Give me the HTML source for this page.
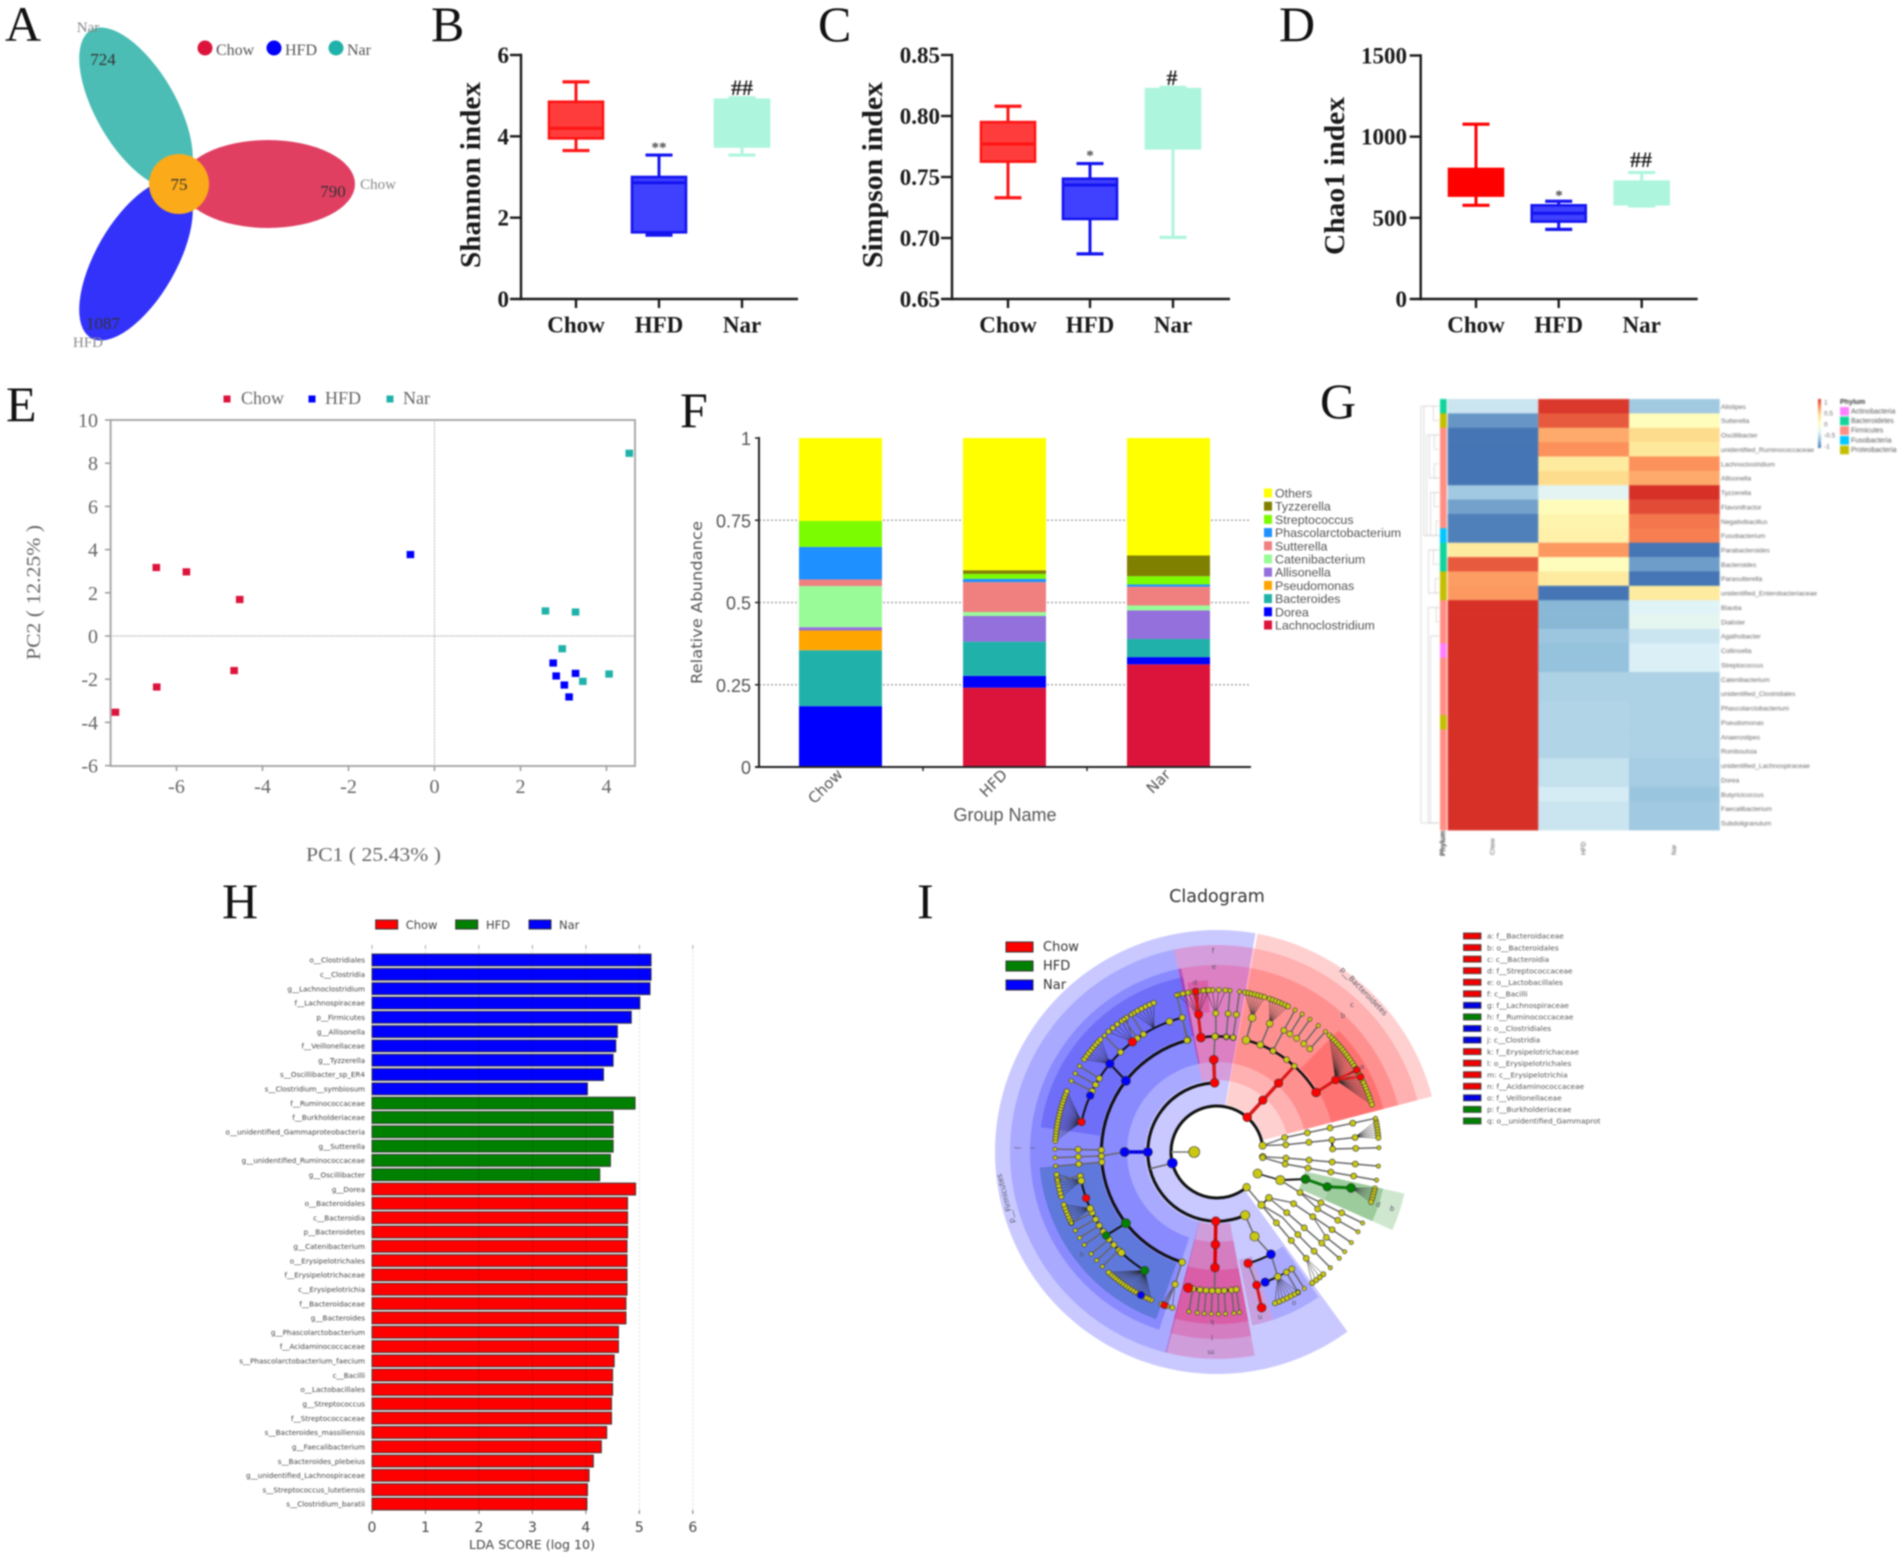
<!DOCTYPE html>
<html lang="en">
<head>
<meta charset="utf-8">
<title>Gut microbiota composite figure</title>
<style>
html,body{margin:0;padding:0;background:#fff;}
#figure{display:block;filter:blur(0.7px);}
.pl{font-family:"Liberation Serif",serif;font-size:50px;fill:#111;}
.bt{font-family:"Liberation Serif",serif;font-weight:bold;fill:#1a1a1a;}
.sf{font-family:"Liberation Serif",serif;}
.ss{font-family:"Liberation Sans",sans-serif;}
.dj{font-family:"DejaVu Sans",sans-serif;}
</style>
</head>
<body>
<svg id="figure" xmlns="http://www.w3.org/2000/svg" width="1901" height="1559" viewBox="0 0 1901 1559">
<rect width="1901" height="1559" fill="#fff"/>

<g>
<text class="pl" x="5" y="41">A</text>
<text class="pl" x="431" y="41">B</text>
<text class="pl" x="818" y="41">C</text>
<text class="pl" x="1279" y="41">D</text>
<text class="pl" x="6" y="421">E</text>
<text class="pl" x="680" y="427">F</text>
<text class="pl" x="1320" y="418">G</text>
<text class="pl" x="222" y="918">H</text>
<text class="pl" x="917" y="918">I</text>
</g>

<g>
<ellipse cx="136" cy="108" rx="40" ry="90" transform="rotate(-30 136 108)" fill="#4bbdb5"/>
<ellipse cx="136" cy="260" rx="40" ry="90" transform="rotate(30 136 260)" fill="#3232fa"/>
<ellipse cx="268" cy="184" rx="87" ry="44" fill="#e03f62"/>
<circle cx="179" cy="184" r="30" fill="#fbaa19"/>
<g class="sf" font-size="17" fill="#333" text-anchor="middle">
<text x="103" y="65">724</text>
<text x="333" y="197">790</text>
<text x="179" y="190">75</text>
<text x="103" y="329">1087</text>
</g>
<g class="sf" font-size="15" fill="#888" text-anchor="middle">
<text x="88" y="32">Nar</text>
<text x="378" y="189">Chow</text>
<text x="88" y="347">HFD</text>
</g>
<g class="sf" font-size="16" fill="#555">
<circle cx="205" cy="48" r="7.5" fill="#dc143c"/>
<text x="216" y="55">Chow</text>
<circle cx="274" cy="48" r="7.5" fill="#0000ff"/>
<text x="285" y="55">HFD</text>
<circle cx="336" cy="48" r="7.5" fill="#20b2aa"/>
<text x="347" y="55">Nar</text>
</g>
</g>

<g id="panelB">
<text class="bt" font-size="29" transform="translate(480 268) rotate(-90)" textLength="186" lengthAdjust="spacingAndGlyphs">Shannon index</text>
<text class="bt" font-size="15" text-anchor="middle" x="659" y="152" fill-opacity="0.8">**</text>
<text class="bt" font-size="22" text-anchor="middle" x="742" y="95">##</text>
</g>
<g id="panelC">
<text class="bt" font-size="29" transform="translate(882 268) rotate(-90)" textLength="186" lengthAdjust="spacingAndGlyphs">Simpson index</text>
<text class="bt" font-size="15" text-anchor="middle" x="1090" y="160" fill-opacity="0.8">*</text>
<text class="bt" font-size="22" text-anchor="middle" x="1172" y="85">#</text>
</g>
<g id="panelD">
<text class="bt" font-size="29" transform="translate(1344 255) rotate(-90)" textLength="158" lengthAdjust="spacingAndGlyphs">Chao1 index</text>
<text class="bt" font-size="15" text-anchor="middle" x="1559" y="200" fill-opacity="0.8">*</text>
<text class="bt" font-size="22" text-anchor="middle" x="1641" y="167">##</text>
</g>

<g id="panelE">
<text class="sf" font-size="20" fill="#666" transform="translate(40 660) rotate(-90)" textLength="135" lengthAdjust="spacingAndGlyphs">PC2 ( 12.25% )</text>
<text class="sf" font-size="20" fill="#666" x="306" y="861" textLength="135" lengthAdjust="spacingAndGlyphs">PC1 ( 25.43% )</text>
<g class="sf" font-size="18" fill="#666">
<rect x="223.500" y="395.500" width="7" height="7" fill="#dc143c"/>
<text x="241" y="404">Chow</text>
<rect x="308.500" y="395.500" width="7" height="7" fill="#0000ff"/>
<text x="325" y="404">HFD</text>
<rect x="386.500" y="395.500" width="7" height="7" fill="#20b2aa"/>
<text x="403" y="404">Nar</text>
</g>
</g>

<g id="panelF">
<text class="dj" font-size="15" fill="#555" transform="translate(702 684) rotate(-90)" textLength="163" lengthAdjust="spacingAndGlyphs">Relative Abundance</text>
<text class="ss" font-size="18" fill="#555" text-anchor="middle" x="1005" y="821">Group Name</text>
</g>

<g id="panelG" style="filter:blur(0.5px)">
<text class="ss" font-size="7" font-weight="bold" fill="#333" transform="translate(1445 856) rotate(-90)">Phylum</text>
<text class="ss" font-size="7" font-weight="bold" fill="#333" x="1840" y="404">Phylum</text>
</g>

<g id="panelH">
<g class="dj" font-size="11.500" fill="#444">
<rect x="375.700" y="920" width="22" height="9" fill="#f00" stroke="#333"/>
<text x="405.700" y="929">Chow</text>
<rect x="455.700" y="920" width="22" height="9" fill="#008000" stroke="#333"/>
<text x="486" y="929">HFD</text>
<rect x="529" y="920" width="22" height="9" fill="#00f" stroke="#333"/>
<text x="559" y="929">Nar</text>
</g>
<text class="dj" font-size="12" fill="#444" x="469" y="1549" textLength="126" lengthAdjust="spacingAndGlyphs">LDA SCORE (log 10)</text>
</g>

<g id="panelI">
<text class="dj" font-size="17.500" fill="#333" text-anchor="middle" x="1217" y="902">Cladogram</text>
<g></g>
</g>
<g id="cladeOverlay">
<g class="dj" font-size="13" fill="#333">
<rect x="1006" y="942" width="27" height="10" fill="#f00" stroke="#333"/>
<text x="1043" y="951">Chow</text>
<rect x="1006" y="961" width="27" height="10" fill="#008000" stroke="#333"/>
<text x="1043" y="970">HFD</text>
<rect x="1006" y="980" width="27" height="10" fill="#00f" stroke="#333"/>
<text x="1043" y="989">Nar</text>
</g>
<g class="dj" font-size="7" fill="#556" text-anchor="middle">
<text x="1213" y="953">f</text>
<text x="1214" y="969">e</text>
<text x="1195" y="985">d</text>
<text x="1352" y="1007">c</text>
<text x="1343" y="1018">b</text>
<text x="1362" y="1069">a</text>
<text x="1082" y="1257">h</text>
<text x="1294" y="1305">o</text>
<text x="1260" y="1319" transform="rotate(180 1260 1317)">n</text>
<text x="1212" y="1324" transform="rotate(180 1212 1322)">k</text>
<text x="1212" y="1339" transform="rotate(180 1212 1337)">l</text>
<text x="1211" y="1354" transform="rotate(180 1211 1352)">m</text>
<text x="1378" y="1207" transform="rotate(195 1378 1205)">p</text>
<text x="1392" y="1211" transform="rotate(195 1392 1209)">q</text>
<text x="1032" y="1150" transform="rotate(90 1032 1148)">i</text>
<text x="1018" y="1150" transform="rotate(90 1018 1148)">j</text>
</g>
<text class="dj" font-size="7.500" fill="#556" text-anchor="middle" transform="translate(1362 993) rotate(46)">p__Bacteroidetes</text>
<text class="dj" font-size="7.500" fill="#556" text-anchor="middle" transform="translate(1008 1198) rotate(-105)">p__Firmicutes</text>
</g>
</svg>

<script>
/* ---------- shared category data ---------- */
const groupNames = ['Chow', 'HFD', 'Nar'];

/* ---------- B / C / D boxplot data: [low, q1, median, q3, high] ---------- */
const shannonChow = [3.65, 3.95, 4.2, 4.85, 5.34];
const shannonHFD = [1.57, 1.64, 2.86, 3.0, 3.54];
const shannonNar = [3.54, 3.75, 3.8, 4.9, 4.95];
const shannonTicks = [0, 2, 4, 6];

const simpsonChow = [0.733, 0.7626, 0.777, 0.795, 0.808];
const simpsonHFD = [0.687, 0.7156, 0.7434, 0.7486, 0.761];
const simpsonNar = [0.7005, 0.7735, 0.774, 0.822, 0.8235];
const simpsonTicks = ['0.65', '0.70', '0.75', '0.80', '0.85'];

const chaoChow = [577, 637, 720, 801, 1077];
const chaoHFD = [429, 477, 528, 577, 602];
const chaoNar = [573, 584, 590, 723, 779];
const chaoTicks = [0, 500, 1000, 1500];

/* ---------- E PCA data ---------- */
const chowPC1 = [-6.47, -5.77, -4.53, -4.66, -6.46, -7.42];
const chowPC2 = [3.17, 2.97, 1.69, -1.6, -2.36, -3.53];
const hfdPC1 = [-0.56, 2.76, 2.83, 3.28, 3.02, 3.13];
const hfdPC2 = [3.77, -1.25, -1.85, -1.73, -2.27, -2.82];
const narPC1 = [4.53, 2.58, 3.28, 2.97, 4.06, 3.45];
const narPC2 = [8.46, 1.16, 1.11, -0.59, -1.76, -2.1];
const pcaXTicks = [-6, -4, -2, 0, 2, 4];
const pcaYTicks = [-6, -4, -2, 0, 2, 4, 6, 8, 10];

/* ---------- F stacked bars (bottom to top) ---------- */
const taxaNames = ['Lachnoclostridium', 'Dorea', 'Bacteroides', 'Pseudomonas', 'Allisonella', 'Catenibacterium', 'Sutterella', 'Phascolarctobacterium', 'Streptococcus', 'Tyzzerella', 'Others'];
const taxaColors = ['#dc143c', '#0000ff', '#20b2aa', '#ffa500', '#9370db', '#98fb98', '#f08080', '#1e90ff', '#7cfc00', '#808000', '#ffff00'];
const stackChow = [0, 0.185, 0.17, 0.06, 0.01, 0.125, 0.02, 0.099, 0.079, 0, 0.252];
const stackHFD = [0.241, 0.036, 0.104, 0, 0.078, 0.012, 0.091, 0.01, 0.015, 0.011, 0.402];
const stackNar = [0.312, 0.022, 0.055, 0, 0.087, 0.015, 0.057, 0.007, 0.025, 0.063, 0.357];
const abundanceTicks = [0, 0.25, 0.5, 0.75, 1];

/* ---------- G heatmap ---------- */
const genusNames = ['Alistipes', 'Sutterella', 'Oscillibacter', 'unidentified_Ruminococcaceae', 'Lachnoclostridium', 'Allisonella', 'Tyzzerella', 'Flavonifractor', 'Negativibacillus', 'Fusobacterium', 'Parabacteroides', 'Bacteroides', 'Parasutterella', 'unidentified_Enterobacteriaceae', 'Blautia', 'Dialister', 'Agathobacter', 'Collinsella', 'Streptococcus', 'Catenibacterium', 'unidentified_Clostridiales', 'Phascolarctobacterium', 'Pseudomonas', 'Anaerostipes', 'Romboutsia', 'unidentified_Lachnospiraceae', 'Dorea', 'Butyricicoccus', 'Faecalibacterium', 'Subdoligranulum'];
const heatChow = [-0.42, -0.85, -1, -1, -1, -1, -0.6, -0.8, -0.95, -0.95, 0.22, 0.85, 0.6, 0.62, 1, 1, 1, 1, 1, 1, 1, 1, 1, 1, 1, 1, 1, 1, 1, 1];
const heatHFD = [0.97, 0.85, 0.55, 0.65, 0.22, 0.35, -0.3, 0.03, 0.12, 0.15, 0.62, 0.02, 0.22, -1, -0.7, -0.7, -0.62, -0.65, -0.65, -0.55, -0.55, -0.53, -0.53, -0.53, -0.53, -0.45, -0.45, -0.38, -0.42, -0.42];
const heatNar = [-0.6, 0.02, 0.35, 0.25, 0.65, 0.55, 1, 0.9, 0.75, 0.72, -1, -0.82, -1, 0.22, -0.33, -0.28, -0.42, -0.36, -0.36, -0.55, -0.55, -0.55, -0.55, -0.55, -0.55, -0.58, -0.58, -0.63, -0.6, -0.6];
const genusPhylum = [1, 4, 2, 2, 2, 2, 2, 2, 2, 3, 1, 1, 4, 4, 2, 2, 2, 0, 2, 2, 2, 2, 4, 2, 2, 2, 2, 2, 2, 2];
const phylumNames = ['Actinobacteria', 'Bacteroidetes', 'Firmicutes', 'Fusobacteria', 'Proteobacteria'];
const phylumColors = ['#ff80ff', '#10d49c', '#ff8f85', '#00c8ff', '#c4bf00'];
const colorbarTicks = ['1', '0.5', '0', '-0.5', '-1'];
const dendroMerges = [[0, 1, 0.35], [2, 3, 0.3], [4, 5, 0.3], [6, 7, 0.3], [8, 9, 0.2], [10, 11, 0.35], [12, 13, 0.25], [14, 15, 0.2], [16, 29, 0.5], [2, 5, 0.55], [6, 9, 0.5], [2, 9, 0.7], [0, 9, 0.85], [10, 13, 0.6], [14, 29, 0.62], [0, 29, 1]];

/* ---------- H LDA bars ---------- */
const narTaxa = ['o__Clostridiales', 'c__Clostridia', 'g__Lachnoclostridium', 'f__Lachnospiraceae', 'p__Firmicutes', 'g__Allisonella', 'f__Veillonellaceae', 'g__Tyzzerella', 's__Oscillibacter_sp_ER4', 's__Clostridium__symbiosum'];
const narLDA = [5.22, 5.22, 5.2, 5.01, 4.85, 4.59, 4.56, 4.51, 4.33, 4.03];
const hfdTaxa = ['f__Ruminococcaceae', 'f__Burkholderiaceae', 'o__unidentified_Gammaproteobacteria', 'g__Sutterella', 'g__unidentified_Ruminococcaceae', 'g__Oscillibacter'];
const hfdLDA = [4.92, 4.51, 4.51, 4.51, 4.46, 4.26];
const chowTaxa = ['g__Dorea', 'o__Bacteroidales', 'c__Bacteroidia', 'p__Bacteroidetes', 'g__Catenibacterium', 'o__Erysipelotrichales', 'f__Erysipelotrichaceae', 'c__Erysipelotrichia', 'f__Bacteroidaceae', 'g__Bacteroides', 'g__Phascolarctobacterium', 'f__Acidaminococcaceae', 's__Phascolarctobacterium_faecium', 'c__Bacilli', 'o__Lactobacillales', 'g__Streptococcus', 'f__Streptococcaceae', 's__Bacteroides_massiliensis', 'g__Faecalibacterium', 's__Bacteroides_plebeius', 'g__unidentified_Lachnospiraceae', 's__Streptococcus_lutetiensis', 's__Clostridium_baratii'];
const chowLDA = [4.93, 4.78, 4.78, 4.78, 4.77, 4.77, 4.77, 4.77, 4.75, 4.75, 4.61, 4.61, 4.53, 4.5, 4.5, 4.48, 4.48, 4.39, 4.29, 4.14, 4.06, 4.03, 4.02];
const ldaTicks = [0, 1, 2, 3, 4, 5, 6];

/* ---------- I cladogram data (angle clockwise from top, tree level) ---------- */
const cladeKeyLabels = ['a: f__Bacteroidaceae', 'b: o__Bacteroidales', 'c: c__Bacteroidia', 'd: f__Streptococcaceae', 'e: o__Lactobacillales', 'f: c__Bacilli', 'g: f__Lachnospiraceae', 'h: f__Ruminococcaceae', 'i: o__Clostridiales', 'j: c__Clostridia', 'k: f__Erysipelotrichaceae', 'l: o__Erysipelotrichales', 'm: c__Erysipelotrichia', 'n: f__Acidaminococcaceae', 'o: f__Veillonellaceae', 'p: f__Burkholderiaceae', 'q: o__unidentified_Gammaprot'];
const cladeKeyGroups = ['r', 'r', 'r', 'r', 'r', 'r', 'b', 'g', 'b', 'b', 'r', 'r', 'r', 'r', 'b', 'g', 'g'];
const cladeSectors = [
  [144, 370, 46, 222, '#c9c9ff'], [194, 348, 72, 207, '#a9a9ff'], [198, 349, 90, 187, '#8a8aff'],
  [278, 349, 118, 178, '#6e6ef8'], [200, 265, 118, 178, '#5f78dc'], [145, 161.5, 115, 177, '#a9a9ff'],
  [161.5, 168.5, 110, 177, '#c8a0e0'],
  [348, 370.5, 72, 207, 'rgba(255,0,90,0.22)'], [348, 370.5, 90, 187, 'rgba(255,0,90,0.18)'], [350, 357, 140, 172, 'rgba(220,0,90,0.25)'],
  [10.5, 75.5, 48, 222, '#ffd0d0'], [10.5, 75.5, 72, 207, '#ffb0b0'], [10.5, 75.5, 90, 187, '#ff9090'], [45, 75.5, 118, 172, '#ff7272'],
  [169.5, 194.5, 72, 207, 'rgba(230,0,90,0.22)'], [169.5, 194.5, 90, 187, 'rgba(230,0,90,0.2)'], [169.5, 194.5, 118, 172, 'rgba(230,0,90,0.25)'],
  [102.5, 114, 90, 192, '#cfe7cf'], [102.5, 114, 90, 170, '#b0d6b0'], [102.5, 114, 118, 170, '#9ccb9c']
];
const cladeArcs = [[1, 141, 442, 3], [2, 156, 356, 3], [4, 197.6, 345, 3], [4, 14, 59, 2.5], [4, 352, 368, 2.5], [5, 172, 192, 2], [5, 282, 345, 2], [5, 211, 258, 2], [5, 147, 160, 1.5], [4, 152, 164, 2]];
const cladeRays = [
  [78, 2, 6], [84, 2, 5], [88.5, 4, 6], [95, 2, 6], [100, 2, 6], [116, 3, 6], [119.5, 4, 6], [124, 3, 6], [128, 5, 6], [131, 3, 6], [135.6, 4, 6], [140, 2, 5],
  [359.5, 4, 5], [4.6, 4, 6], [8, 4, 6], [14.7, 4, 5], [22.3, 4, 5], [28.8, 4, 6], [31.7, 5, 6], [35, 5, 6], [38.7, 5, 6], [42, 5, 6],
  [225, 5, 6], [228, 5, 6], [231, 5, 6], [235, 5, 6], [238, 5, 6], [241, 5, 6], [244, 5, 6], [271, 4, 6], [268, 4, 6], [265, 4, 6], [260, 5, 6],
  [296, 5, 6], [299, 5, 6], [302, 5, 6], [316, 5, 6], [325, 5, 6], [328, 5, 6], [345.5, 4, 6],
  [190, 5, 6], [187, 5, 6], [184.5, 5, 6], [182, 5, 6], [179.5, 5, 6], [177, 5, 6], [174, 5, 6], [172, 5, 6], [147.4, 5, 6], [150, 5, 6]
];
const cladeFans = [
  [83.8, 5, 79, 85, 7], [140, 5, 139, 144, 4], [105, 5, 103, 108, 6], [58.7, 5, 44, 73, 26], [14.7, 5, 10, 17, 7], [22.3, 5, 19, 26, 7],
  [359.5, 5, 356, 3, 4], [352.4, 5, 346, 357, 7], [211.4, 5, 204, 222, 18], [282.5, 5, 274, 292, 18], [309.5, 5, 305, 314, 8],
  [322.5, 5, 318, 326, 5], [333, 5, 329, 337, 6], [197.6, 5, 196, 200, 3], [154, 5, 150, 159, 7], [246, 5, 244, 251, 7], [258, 5, 254, 262, 7]
];
const cladeLinks = [
  [82, 1, 78, 2, '#666', 1.4], [82, 1, 84, 2, '#666', 1.4], [96, 1, 95, 2, '#666', 1.4], [97, 1, 100, 2, '#666', 1.4], [118, 1, 114, 2, '#222', 1.6],
  [114, 2, 107, 3, '#111', 2], [114, 2, 116, 3, '#666', 1.4], [140, 1, 140, 2, '#666', 1.4], [140, 2, 131.5, 2, '#222', 1.6], [131.5, 2, 123.5, 3, '#666', 1.4],
  [131.5, 2, 131, 3, '#666', 1.4], [140, 2, 135, 3, '#666', 1.4], [135, 3, 135.6, 4, '#666', 1.4], [116, 3, 119.5, 4, '#666', 1.4], [84, 4, 88.5, 4, '#111', 2], [124, 4, 128, 5, '#666', 1.2],
  [107, 3, 107.5, 4, '#0a7a0a', 3], [107.5, 4, 105, 5, '#0a7a0a', 3],
  [41, 1, 41.8, 3, '#d81818', 3.5], [41.8, 3, 42, 4, '#d81818', 3], [59, 4, 58.7, 5, '#d81818', 3], [58.7, 5, 59.6, 6, '#d81818', 2], [58.7, 5, 62.4, 6, '#d81818', 2],
  [358, 2, 358, 3, '#d81818', 3.5], [358, 3, 359, 4, '#666', 1.5], [352, 4, 352.4, 6, '#d81818', 3], [181, 2, 181, 4, '#e00000', 3.5], [181, 4, 181, 5, '#666', 1.5],
  [270, 2, 270, 3, '#0000e0', 3.5], [270, 3, 268, 4, '#666', 1.5], [256, 1, 256, 2, '#666', 1.5], [270, 1, 270, 0, '#777', 1.5],
  [308, 4, 309.5, 5, '#111', 2], [232, 4, 233, 5, '#111', 2], [156, 2, 156, 3, '#666', 1.5], [156, 3, 152.2, 4, '#666', 1.5],
  [164.4, 4, 163.4, 5, '#666', 1.5], [163.4, 5, 164, 6, '#d81818', 3], [152.2, 4, 154, 5, '#666', 1.5], [154, 5, 159.7, 5, '#111', 2],
  [197.6, 4, 197.6, 5, '#666', 1.5], [197.6, 5, 199, 6, '#666', 1.5], [14.6, 4, 14.7, 5, '#666', 1.5], [345, 4, 345.5, 5, '#666', 1.5]
];
const cladeNodes = [
  [270, 0, 'y', 5.5], [82, 1, 'y', 3.6], [96, 1, 'y', 3.4], [97, 1, 'y', 3], [118, 1, 'y', 4.5], [140, 1, 'y', 3.8], [156, 2, 'y', 4.6], [156, 3, 'y', 4.6], [114, 2, 'y', 4.6], [131.5, 2, 'y', 3.4], [140, 2, 'y', 3.6],
  [268, 4, 'y', 3], [345, 4, 'y', 3.2], [359, 4, 'y', 3.2], [4.6, 4, 'y', 2.6], [8, 4, 'y', 2.8], [14.6, 4, 'y', 4], [22, 4, 'y', 3.4], [29, 4, 'y', 3], [37, 4, 'y', 3], [42, 4, 'y', 2.8], [197.6, 4, 'y', 3.4], [197.6, 5, 'y', 3.2],
  [223.5, 5, 'y', 3.6], [246, 5, 'y', 3.4], [258, 5, 'y', 3.4], [340, 5, 'y', 3.4], [14.7, 5, 'y', 3.8], [22.3, 5, 'y', 3.4], [154, 5, 'y', 3.4],
  [41, 1, 'r', 4.4], [41.5, 2, 'r', 4.2], [41.8, 3, 'r', 4.2], [59, 4, 'r', 4.4], [58.7, 5, 'r', 4], [59.6, 6, 'r', 3.4], [62.4, 6, 'r', 3.4], [358, 2, 'r', 4.4], [358, 3, 'r', 4.4], [352, 4, 'r', 4.4], [352.4, 5, 'r', 4], [352.4, 6, 'r', 3.4], [322.5, 5, 'r', 4.2], [282.5, 5, 'r', 3.8], [250.6, 5, 'r', 3.8], [181, 2, 'r', 4.4], [181, 3, 'r', 4.4], [181, 4, 'r', 4.4], [192, 5, 'r', 4.6], [199, 6, 'r', 3.4], [164.4, 4, 'r', 4.2], [163.4, 5, 'r', 4], [164, 6, 'r', 4.4],
  [256, 1, 'b', 5], [270, 2, 'b', 4.6], [270, 3, 'b', 4.6], [308, 4, 'b', 4.6], [309.5, 5, 'b', 4.2], [294, 5, 'b', 3.8], [208, 6, 'b', 3.6], [152.2, 4, 'b', 4.4], [159.7, 5, 'b', 4.2],
  [232, 4, 'g', 4.6], [233, 5, 'g', 3.8], [211.4, 5, 'g', 4.2], [107, 3, 'g', 4.4], [107.5, 4, 'g', 4.2], [105, 5, 'g', 4.4]
];

/* ---------- drawing helpers ---------- */
const SVGNS = 'http://www.w3.org/2000/svg';
function mk(parent, tag, attrs, name, interact) {
  const el = document.createElementNS(SVGNS, tag);
  for (const k in attrs) el.setAttribute(k, attrs[k]);
  
  
  parent.appendChild(el);
  return el;
}
function label(parent, x, y, str, cls, size, fill, anchor, name, extra) {
  const a = Object.assign({ x: x, y: y, class: cls, 'font-size': size, fill: fill, 'text-anchor': anchor }, extra || {});
  const el = mk(parent, 'text', a, name);
  el.textContent = str;
  return el;
}
const $ = id => document.getElementById(id);

/* ---------- B C D ---------- */
function drawBoxPanel(root, prefix, cfg, series, ticks, colors) {
  const yOf = v => cfg.y0 + (v - cfg.min) / (cfg.max - cfg.min) * (cfg.y1 - cfg.y0);
  mk(root, 'line', { x1: cfg.ax, x2: cfg.ax, y1: cfg.y1 - 1.2, y2: cfg.y0 + 1.2, stroke: '#1a1a1a', 'stroke-width': 2.4 }, prefix + '-y-axis');
  mk(root, 'line', { x1: cfg.ax - 11, x2: cfg.end, y1: cfg.y0, y2: cfg.y0, stroke: '#1a1a1a', 'stroke-width': 2.4 }, prefix + '-x-axis');
  ticks.forEach(t => {
    const y = yOf(+t);
    if (+t !== cfg.min) mk(root, 'line', { x1: cfg.ax - 11, x2: cfg.ax, y1: y, y2: y, stroke: '#1a1a1a', 'stroke-width': 2.4 }, prefix + '-y-tick');
    label(root, cfg.lab, y + 8, String(t), 'bt', 23, '#1a1a1a', 'end', prefix + '-y-tick-label');
  });
  groupNames.forEach((g, i) => {
    const x = cfg.xs[i], d = series[i], c = colors[i];
    mk(root, 'line', { x1: x, x2: x, y1: cfg.y0, y2: cfg.y0 + 9, stroke: '#1a1a1a', 'stroke-width': 2.4 }, prefix + '-x-tick');
    label(root, x, 332.5, g, 'bt', 23, '#1a1a1a', 'middle', prefix + '-x-tick-label');
    mk(root, 'line', { x1: x, x2: x, y1: yOf(d[0]), y2: yOf(d[4]), stroke: c.s, 'stroke-width': 3 }, prefix + '-whisker-' + g.toLowerCase());
    mk(root, 'line', { x1: x - 13.5, x2: x + 13.5, y1: yOf(d[0]), y2: yOf(d[0]), stroke: c.s, 'stroke-width': 3.2 }, prefix + '-cap-low-' + g.toLowerCase());
    mk(root, 'line', { x1: x - 13.5, x2: x + 13.5, y1: yOf(d[4]), y2: yOf(d[4]), stroke: c.s, 'stroke-width': 3.2 }, prefix + '-cap-high-' + g.toLowerCase());
    mk(root, 'rect', { x: x - 27, y: yOf(d[3]), width: 54, height: yOf(d[1]) - yOf(d[3]), fill: c.f, stroke: c.s, 'stroke-width': 2.6 }, prefix + '-box-' + g.toLowerCase());
    mk(root, 'line', { x1: x - 27, x2: x + 27, y1: yOf(d[2]), y2: yOf(d[2]), stroke: c.s, 'stroke-width': 3 }, prefix + '-median-' + g.toLowerCase());
  });
}
const softBox = [{ s: '#ff1515', f: '#ff3c3c' }, { s: '#1414f0', f: '#4040ff' }, { s: '#aef5de', f: '#aef5de' }];
drawBoxPanel($('panelB'), 'shannon', { min: 0, max: 6, y0: 299, y1: 55, ax: 521, end: 798, lab: 509, xs: [576, 659, 742] }, [shannonChow, shannonHFD, shannonNar], shannonTicks, softBox);
drawBoxPanel($('panelC'), 'simpson', { min: 0.65, max: 0.85, y0: 299, y1: 55, ax: 952, end: 1230, lab: 940, xs: [1008, 1090, 1173] }, [simpsonChow, simpsonHFD, simpsonNar], simpsonTicks, softBox);
drawBoxPanel($('panelD'), 'chao1', { min: 0, max: 1500, y0: 299, y1: 55.5, ax: 1420.7, end: 1697.7, lab: 1407, xs: [1476, 1558.7, 1641.7] }, [chaoChow, chaoHFD, chaoNar], chaoTicks, [{ s: '#ff0000', f: '#ff0000' }, { s: '#1414f0', f: '#4040ff' }, { s: '#aef5de', f: '#aef5de' }]);

/* ---------- E ---------- */
(function () {
  const root = $('panelE');
  const xOf = v => 434.5 + v * 43;
  const yOf = v => 636 - v * 21.6;
  mk(root, 'rect', { x: 110.6, y: 420, width: 524.4, height: 346, fill: 'none', stroke: '#aaa', 'stroke-width': 2 }, 'pca-frame');
  mk(root, 'line', { x1: xOf(0), x2: xOf(0), y1: 420, y2: 766, stroke: '#bbb', 'stroke-width': 1, 'stroke-dasharray': '2 1' }, 'pca-zero-vertical');
  mk(root, 'line', { x1: 110.6, x2: 635, y1: yOf(0), y2: yOf(0), stroke: '#bbb', 'stroke-width': 1.2, 'stroke-dasharray': '2 1' }, 'pca-zero-horizontal');
  pcaXTicks.forEach(t => {
    mk(root, 'line', { x1: xOf(t), x2: xOf(t), y1: 766, y2: 771, stroke: '#999', 'stroke-width': 1.5 }, 'pca-x-tick');
    label(root, xOf(t), 793, String(t), 'sf', 20, '#666', 'middle', 'pca-x-tick-label');
  });
  pcaYTicks.forEach(t => {
    mk(root, 'line', { x1: 105, x2: 110.6, y1: yOf(t), y2: yOf(t), stroke: '#999', 'stroke-width': 1.5 }, 'pca-y-tick');
    label(root, 98, yOf(t) + 7, String(t), 'sf', 20, '#666', 'end', 'pca-y-tick-label');
  });
  [[chowPC1, chowPC2, '#dc143c', 'chow'], [hfdPC1, hfdPC2, '#0000ff', 'hfd'], [narPC1, narPC2, '#20b2aa', 'nar']].forEach(s => {
    s[0].forEach((v, i) => {
      mk(root, 'rect', { x: xOf(v) - 3.8, y: yOf(s[1][i]) - 3.6, width: 7.6, height: 7.2, fill: s[2] }, 'pca-point-' + s[3]);
    });
  });
})();

/* ---------- F ---------- */
(function () {
  const root = $('panelF');
  const yOf = v => 767 - v * 329;
  abundanceTicks.forEach(t => {
    if (t > 0 && t < 1) mk(root, 'line', { x1: 759, x2: 1251, y1: yOf(t), y2: yOf(t), stroke: '#999', 'stroke-width': 1.2, 'stroke-dasharray': '2 2' }, 'abundance-gridline');
    mk(root, 'line', { x1: 755, x2: 759, y1: yOf(t), y2: yOf(t), stroke: '#222', 'stroke-width': 1.5 }, 'abundance-y-tick');
    label(root, 751, yOf(t) + 7, String(t), 'ss', 18, '#555', 'end', 'abundance-y-tick-label');
  });
  const lefts = [799, 963, 1127];
  const tickX = [829, 997, 1162];
  const tickY = [790, 787, 785];
  [stackChow, stackHFD, stackNar].forEach((arr, i) => {
    let acc = 0;
    arr.forEach((v, k) => {
      if (v > 0) mk(root, 'rect', { x: lefts[i], y: yOf(acc + v), width: 83, height: yOf(acc) - yOf(acc + v), fill: taxaColors[k] }, 'abundance-segment-' + groupNames[i].toLowerCase() + '-' + taxaNames[k].toLowerCase());
      acc += v;
    });
    label(root, 0, 0, groupNames[i], 'dj', 15, '#555', 'middle', 'abundance-x-tick-label', { transform: 'translate(' + tickX[i] + ' ' + tickY[i] + ') rotate(-45)' });
  });
  mk(root, 'line', { x1: 759, x2: 759, y1: 437, y2: 768, stroke: '#222', 'stroke-width': 2 }, 'abundance-y-axis');
  mk(root, 'line', { x1: 755, x2: 1251, y1: 767, y2: 767, stroke: '#222', 'stroke-width': 2 }, 'abundance-x-axis');
  [923, 1087].forEach(x => mk(root, 'line', { x1: x, x2: x, y1: 767, y2: 771, stroke: '#222', 'stroke-width': 1.5 }, 'abundance-x-tick'));
  taxaNames.slice().reverse().forEach((n, i) => {
    const y = 493 + i * 13.2;
    mk(root, 'rect', { x: 1264, y: y - 4.5, width: 8, height: 9, fill: taxaColors[taxaNames.length - 1 - i] }, 'abundance-legend-swatch');
    label(root, 1275, y + 4.5, n, 'ss', 12.4, '#555', 'start', 'abundance-legend-label');
  });
})();

/* ---------- G ---------- */
(function () {
  const root = $('panelG');
  const stops = [[69, 117, 180], [145, 191, 219], [224, 243, 248], [255, 255, 191], [254, 224, 144], [252, 141, 89], [215, 48, 39]];
  const heat = v => {
    const p = (Math.max(-1, Math.min(1, v)) + 1) / 2 * (stops.length - 1);
    const i = Math.min(stops.length - 2, Math.floor(p)), t = p - i;
    return 'rgb(' + stops[i].map((c, k) => Math.round(c + (stops[i + 1][k] - c) * t)).join(',') + ')';
  };
  const colX = [1447.7, 1538.3, 1629];
  const rowH = 14.37, top = 399;
  [heatChow, heatHFD, heatNar].forEach((col, c) => {
    col.forEach((v, r) => {
      mk(root, 'rect', { x: colX[c], y: top + r * rowH, width: 90.7, height: rowH + 0.3, fill: heat(v) }, 'heatmap-cell-' + groupNames[c].toLowerCase());
    });
    label(root, 0, 0, groupNames[c], 'ss', 6.5, '#555', 'start', 'heatmap-column-label', { transform: 'translate(' + (colX[c] + 47) + ' 855) rotate(-90)' });
  });
  genusNames.forEach((n, r) => {
    mk(root, 'rect', { x: 1440, y: top + r * rowH, width: 6.7, height: rowH + 0.3, fill: phylumColors[genusPhylum[r]] }, 'heatmap-phylum-annotation');
    label(root, 1721, top + r * rowH + 9.8, n, 'ss', 6.7, '#666', 'start', 'heatmap-row-label');
  });
  dendroMerges.forEach(m => {
    const ya = top + (m[0] + 0.5) * rowH, yb = top + (m[1] + 0.5) * rowH, x = 1440 - m[2] * 19;
    mk(root, 'path', { d: 'M1439 ' + ya + 'H' + x + 'V' + yb + 'H1439', fill: 'none', stroke: '#ccc', 'stroke-width': 0.7 }, 'heatmap-dendrogram-branch');
  });
  const grad = mk(root, 'linearGradient', { id: 'heatBar', x1: 0, y1: 0, x2: 0, y2: 1 }, 'heatmap-colorbar-gradient');
  stops.slice().reverse().forEach((s, i) => {
    mk(grad, 'stop', { offset: i / (stops.length - 1), 'stop-color': 'rgb(' + s.join(',') + ')' }, 'heatmap-colorbar-stop');
  });
  mk(root, 'rect', { x: 1818, y: 399, width: 3, height: 49, fill: 'url(#heatBar)' }, 'heatmap-colorbar');
  colorbarTicks.forEach((t, i) => label(root, 1824, 404.5 + i * 11, t, 'ss', 6.5, '#666', 'start', 'heatmap-colorbar-label'));
  phylumNames.forEach((n, i) => {
    const y = 407 + i * 9.67;
    mk(root, 'rect', { x: 1840, y: y, width: 9, height: 8.6, fill: phylumColors[i] }, 'heatmap-phylum-legend-swatch');
    label(root, 1851, y + 6.4, n, 'ss', 7, '#555', 'start', 'heatmap-phylum-legend-label');
  });
})();

/* ---------- H ---------- */
(function () {
  const root = $('panelH');
  const xOf = v => 372 + v * 53.47;
  const rows = [];
  narTaxa.forEach((n, i) => rows.push([n, narLDA[i], '#0000ff', 'nar']));
  hfdTaxa.forEach((n, i) => rows.push([n, hfdLDA[i], '#008000', 'hfd']));
  chowTaxa.forEach((n, i) => rows.push([n, chowLDA[i], '#ff0000', 'chow']));
  const step = 544 / (rows.length - 1);
  ldaTicks.forEach(t => {
    mk(root, 'line', { x1: xOf(t), x2: xOf(t), y1: 947, y2: 1513, stroke: '#ddd', 'stroke-width': 1, 'stroke-dasharray': '2 2' }, 'lda-gridline');
    mk(root, 'line', { x1: xOf(t), x2: xOf(t), y1: 945, y2: 949, stroke: '#aaa', 'stroke-width': 1 }, 'lda-top-tick');
  });
  rows.forEach((r, i) => {
    const y = 960 + i * step;
    mk(root, 'rect', { x: 372, y: y - 6, width: xOf(r[1]) - 372, height: 12, fill: r[2], stroke: '#333', 'stroke-width': 0.9 }, 'lda-bar-' + r[3]);
    label(root, 365, y + 2.7, r[0], 'dj', 7.2, '#444', 'end', 'lda-taxon-label');
    ldaTicks.forEach(t => {
      if (t > 0 && t < r[1]) mk(root, 'line', { x1: xOf(t), x2: xOf(t), y1: y - 6, y2: y + 6, stroke: 'rgba(0,0,0,0.14)', 'stroke-width': 1 }, 'lda-grid-overlay');
    });
  });
  ldaTicks.forEach(t => {
    mk(root, 'line', { x1: xOf(t), x2: xOf(t), y1: 1510, y2: 1514, stroke: '#777', 'stroke-width': 1 }, 'lda-x-tick');
    label(root, xOf(t), 1532, String(t), 'dj', 14, '#444', 'middle', 'lda-x-tick-label');
  });
})();

/* ---------- I ---------- */
(function () {
  const root = $('panelI');
  const cx = 1217, cy = 1152;
  const rad = L => 46 + (L - 1) * 23.2;
  const px = (a, r) => cx + r * Math.sin(a * Math.PI / 180);
  const py = (a, r) => cy - r * Math.cos(a * Math.PI / 180);
  const nodeFill = { y: '#c9c914', r: '#ff0000', b: '#0000ff', g: '#008000' };
  cladeSectors.forEach(s => {
    const [a0, a1, r0, r1, c] = s;
    const big = a1 - a0 > 180 ? 1 : 0;
    const d = 'M' + px(a0, r0) + ' ' + py(a0, r0) + 'L' + px(a0, r1) + ' ' + py(a0, r1) + 'A' + r1 + ' ' + r1 + ' 0 ' + big + ' 1 ' + px(a1, r1) + ' ' + py(a1, r1) + 'L' + px(a1, r0) + ' ' + py(a1, r0) + 'A' + r0 + ' ' + r0 + ' 0 ' + big + ' 0 ' + px(a0, r0) + ' ' + py(a0, r0) + 'Z';
    mk(root, 'path', { d: d, fill: c }, 'clade-sector');
  });
  cladeArcs.forEach(s => {
    const r = rad(s[0]);
    const big = s[2] - s[1] > 180 ? 1 : 0;
    mk(root, 'path', { d: 'M' + px(s[1], r) + ' ' + py(s[1], r) + 'A' + r + ' ' + r + ' 0 ' + big + ' 1 ' + px(s[2], r) + ' ' + py(s[2], r), fill: 'none', stroke: '#111', 'stroke-width': s[3] }, 'clade-arc');
  });
  const dot = (a, L, fill, size, name) => mk(root, 'circle', { cx: px(a, rad(L)), cy: py(a, rad(L)), r: size, fill: fill, stroke: '#333', 'stroke-width': 0.6 }, name);
  cladeFans.forEach(f => {
    const n = f[4], a0 = f[2], a1 = f[3] < f[2] ? f[3] + 360 : f[3];
    for (let i = 0; i < n; i++) {
      const a = a0 + (a1 - a0) * i / (n - 1);
      mk(root, 'line', { x1: px(f[0], rad(f[1])), y1: py(f[0], rad(f[1])), x2: px(a, rad(6)), y2: py(a, rad(6)), stroke: '#222', 'stroke-width': 0.5 }, 'clade-fan-edge');
    }
  });
  cladeRays.forEach(s => mk(root, 'line', { x1: px(s[0], rad(s[1])), y1: py(s[0], rad(s[1])), x2: px(s[0], rad(s[2])), y2: py(s[0], rad(s[2])), stroke: '#666', 'stroke-width': 1.5 }, 'clade-ray'));
  cladeLinks.forEach(s => mk(root, 'line', { x1: px(s[0], rad(s[1])), y1: py(s[0], rad(s[1])), x2: px(s[2], rad(s[3])), y2: py(s[2], rad(s[3])), stroke: s[4], 'stroke-width': s[5] }, 'clade-link'));
  cladeFans.forEach(f => {
    const n = f[4], a0 = f[2], a1 = f[3] < f[2] ? f[3] + 360 : f[3];
    for (let i = 0; i < n; i++) dot(a0 + (a1 - a0) * i / (n - 1), 6, nodeFill.y, 2.6, 'clade-leaf-node');
  });
  cladeRays.forEach(s => {
    for (let L = s[1]; L <= s[2]; L++) dot(s[0], L, nodeFill.y, L >= 6 ? 2.1 : 3, 'clade-node');
  });
  cladeNodes.forEach(n => dot(n[0], n[1], nodeFill[n[2]], n[3], 'clade-highlight-node'));
  const keyFill = { r: '#f00000', b: '#0000e0', g: '#008000' };
  cladeKeyLabels.forEach((t, i) => {
    const y = 936 + i * 11.56;
    mk(root, 'rect', { x: 1463.5, y: y - 3, width: 17.5, height: 6, fill: keyFill[cladeKeyGroups[i]], stroke: '#444', 'stroke-width': 0.9 }, 'clade-key-swatch');
    label(root, 1487, y + 2.7, t, 'dj', 7.4, '#555', 'start', 'clade-key-label');
  });
})();
</script>
</body>
</html>
